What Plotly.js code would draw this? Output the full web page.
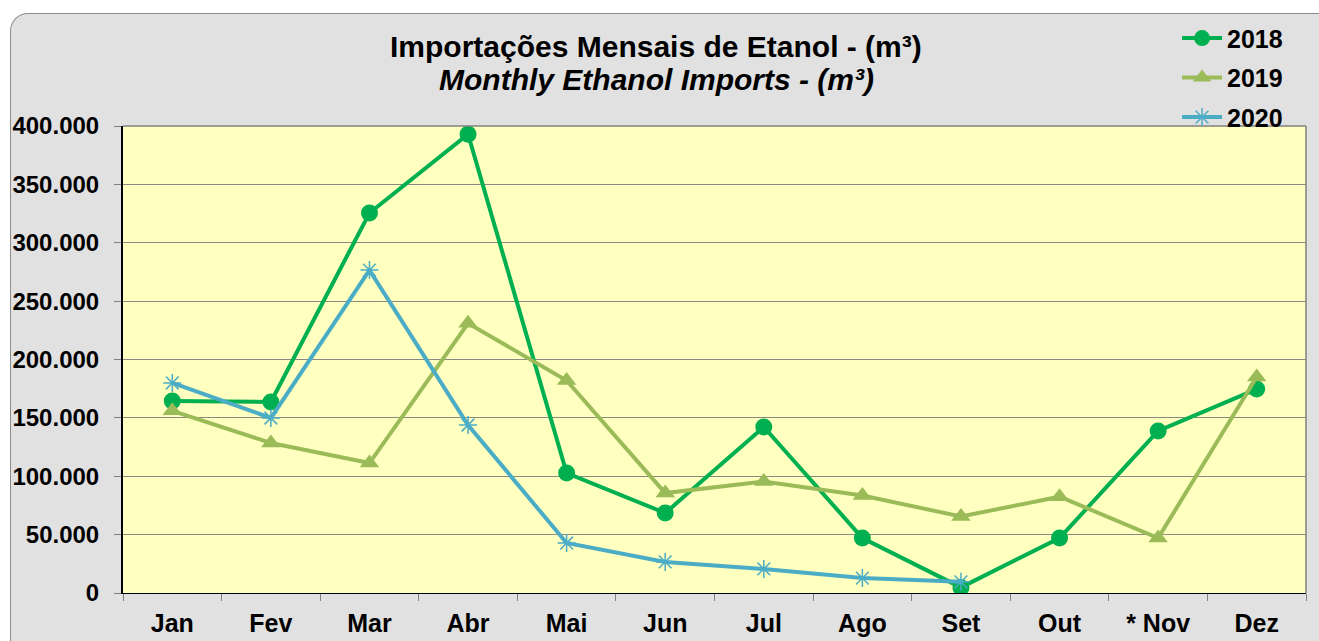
<!DOCTYPE html>
<html>
<head>
<meta charset="utf-8">
<script src="https://cdn.plot.ly/plotly-3.0.1.min.js"></script>
<style>
  html, body { margin: 0; padding: 0; background: #ffffff; width: 1319px; height: 641px; overflow: hidden; }
  #chart { position: absolute; left: 10px; top: 13px; width: 1309px; height: 628px;
           background: #e1e1e1; border: 1px solid #8c8c8c; border-right: none; border-bottom: none;
           border-top-left-radius: 18px; overflow: hidden; box-sizing: border-box; }
</style>
</head>
<body>
<div id="chart"></div>
<script>
const months = ["Jan", "Fev", "Mar", "Abr", "Mai", "Jun", "Jul", "Ago", "Set", "Out", "* Nov", "Dez"];
const imports2018 = [164400, 163600, 325500, 393000, 102800, 68500, 142200, 47100, 4800, 47100, 138800, 174700];
const imports2019 = [156000, 128500, 111300, 231000, 182000, 85600, 95500, 83500, 65500, 82500, 47100, 185000];
const imports2020 = [179900, 149900, 276600, 143900, 42800, 26600, 20600, 12800, 9600];
const monthsObs2020 = months.slice(0, imports2020.length);

const font = "Liberation Sans, Arial, sans-serif";

const traces = [
  { x: months, y: imports2018, name: "2018", type: "scatter", mode: "lines+markers",
    legendgroup: "a",
    line: { color: "#00b050", width: 4 },
    marker: { symbol: "circle", size: 17, color: "#00b050" } },
  { x: months, y: imports2019, name: "2019", type: "scatter", mode: "lines+markers",
    legendgroup: "b",
    line: { color: "#9bbb59", width: 4 },
    marker: { symbol: "triangle-up", size: 17, color: "#9bbb59" } },
  { x: monthsObs2020, y: imports2020, name: "2020", type: "scatter", mode: "lines+markers",
    legendgroup: "c",
    line: { color: "#4bacc6", width: 4 },
    marker: { symbol: "asterisk-open", size: 15, color: "#4bacc6", line: { color: "#4bacc6", width: 1.5 } } }
];

const layout = {
  width: 1309, height: 628,
  margin: { l: 112, r: 14, t: 112, b: 49, autoexpand: false },
  paper_bgcolor: "rgba(0,0,0,0)",
  plot_bgcolor: "#ffffc0",
  separators: ",.",
  showlegend: true,
  legend: {
    x: 0.891, y: 1.237, xanchor: "left", yanchor: "top",
    bgcolor: "rgba(0,0,0,0)",
    font: { family: font, size: 25, color: "#000000", weight: "bold" },
    tracegroupgap: 4,
    traceorder: "grouped",
    itemwidth: 40
  },
  xaxis: {
    type: "category",
    range: [-0.5, 11.5],
    tickson: "boundaries",
    ticks: "outside", ticklen: 7, tickcolor: "#808080",
    showgrid: false,
    showline: true, linecolor: "#000000", linewidth: 1,
    ticklabelstandoff: 8,
    tickfont: { family: font, size: 25, color: "#000000", weight: "bold" },
    fixedrange: true
  },
  yaxis: {
    range: [0, 400000],
    dtick: 50000,
    tickformat: ",.0f",
    ticks: "outside", ticklen: 7, tickcolor: "#808080",
    showgrid: true, gridcolor: "#8a8a80", gridwidth: 1,
    zeroline: false,
    showline: true, linecolor: "#000000", linewidth: 2,
    ticklabelstandoff: 10,
    tickfont: { family: font, size: 24, color: "#000000", weight: "bold" },
    fixedrange: true
  },
  shapes: [
    { type: "line", xref: "paper", yref: "paper", x0: 0, x1: 1, y0: 1, y1: 1, line: { color: "#808080", width: 1.5 } },
    { type: "line", xref: "paper", yref: "paper", x0: 1, x1: 1, y0: 0, y1: 1, line: { color: "#808080", width: 1.5 } }
  ],
  annotations: [
    { text: "<b>Importações Mensais de Etanol - (m³)</b>", xref: "paper", yref: "paper",
      x: 0.4506, y: 1.171, xanchor: "center", yanchor: "middle", showarrow: false,
      font: { family: font, size: 30, color: "#000000" } },
    { text: "<b><i>Monthly Ethanol Imports - (m³)</i></b>", xref: "paper", yref: "paper",
      x: 0.4506, y: 1.099, xanchor: "center", yanchor: "middle", showarrow: false,
      font: { family: font, size: 30, color: "#000000" } }
  ]
};

Plotly.newPlot("chart", traces, layout, { displayModeBar: false, staticPlot: true });
</script>
</body>
</html>
